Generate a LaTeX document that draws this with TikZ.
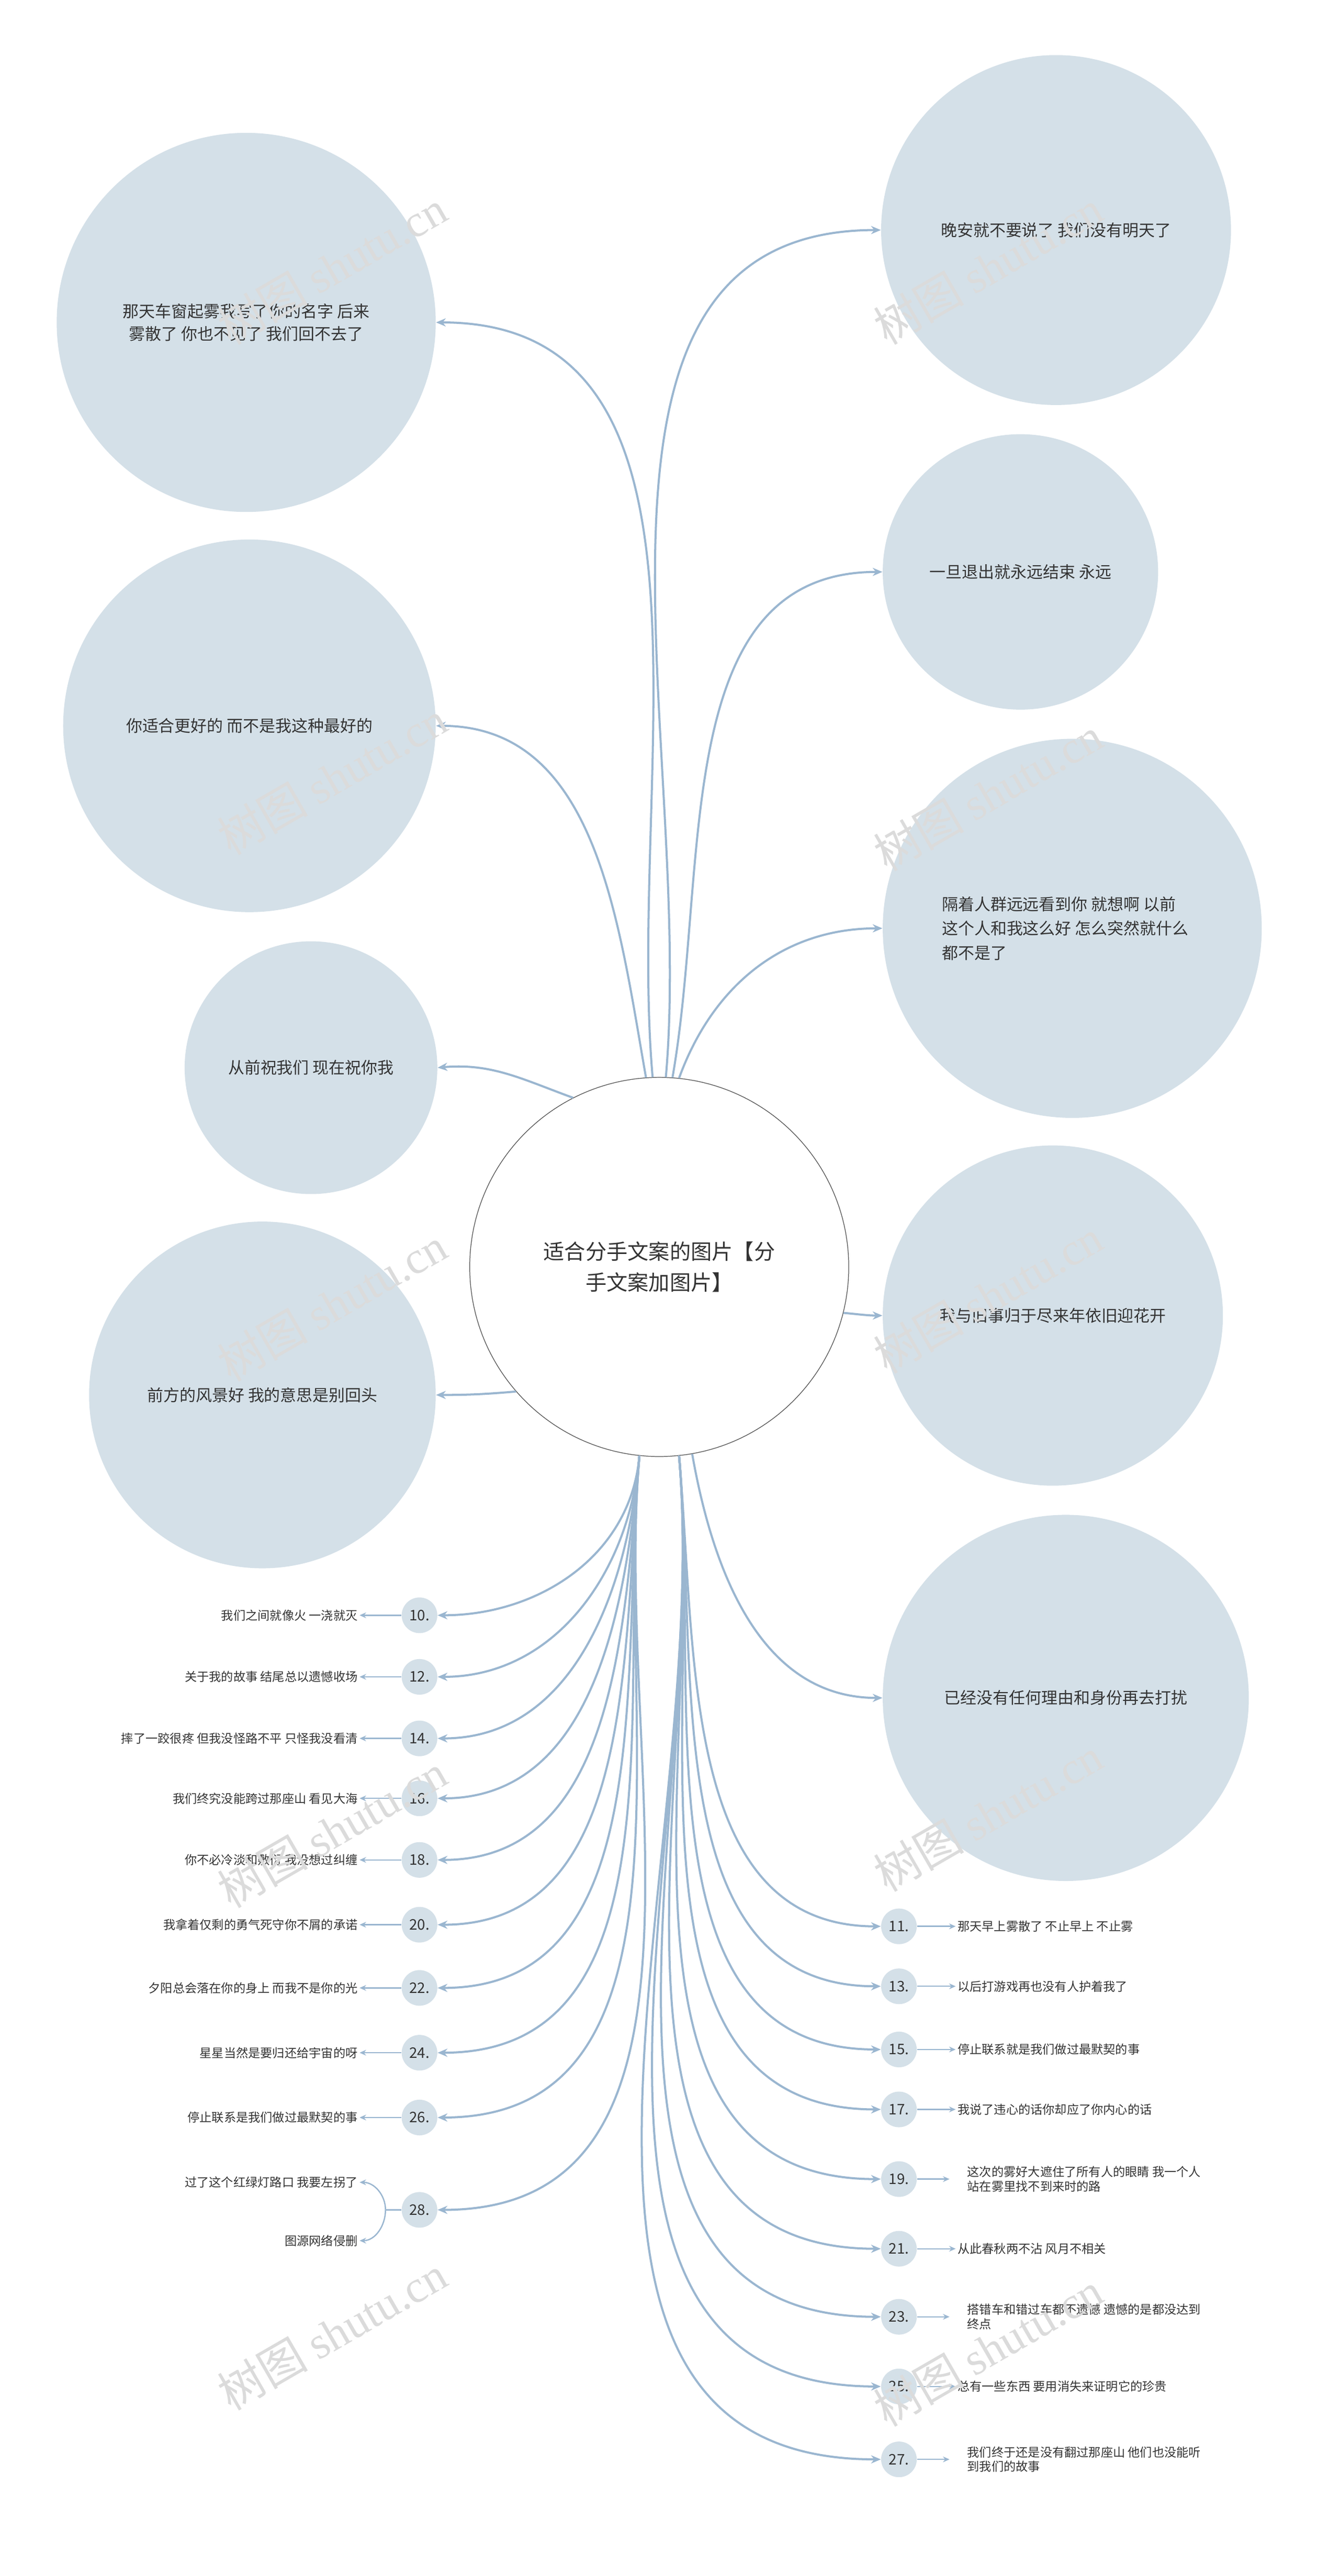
\documentclass[tikz,border=0pt]{standalone}
\usepackage{fontspec}
\setmainfont{Noto Sans CJK SC}
\newfontfamily\wmfont{Liberation Serif}
\usetikzlibrary{arrows.meta}
\definecolor{lc}{HTML}{9AB6D0}
\definecolor{cf}{HTML}{D4E0E8}
\definecolor{tx}{HTML}{333333}
\tikzset{
 big/.style={circle,fill=cf,inner sep=0pt,text=tx,font=\fontsize{10}{14}\selectfont,align=center},
 num/.style={circle,fill=cf,minimum size=22pt,inner sep=0pt,text=tx,font=\fontsize{9}{10}\selectfont},
 item/.style={text=tx,font=\fontsize{7.5}{11}\selectfont,inner sep=1pt},
 conn/.style={draw=lc,line width=1.3pt,-{Stealth[length=6pt,width=5pt]}},
 sh/.style={draw=lc,line width=0.8pt,-{Stealth[length=4pt,width=3.5pt]}},
 wm/.style={text=black!14,font=\fontsize{28}{28}\selectfont,rotate=30}
}
\begin{document}
\begin{tikzpicture}[x=1pt,y=-1pt]
\useasboundingbox (0,0) rectangle (827,1590);
\fill[white] (0,0) rectangle (827,1590);
% center
\node[circle,draw=black!70,fill=white,minimum size=234pt,inner sep=0pt,align=center,font=\fontsize{13}{19}\selectfont,text=tx] (c) at (407,782) {适合分手文案的图片【分\\手文案加图片】};
% left circles
\node[big,minimum size=234pt] (l1) at (152,199) {那天车窗起雾我写了你的名字 后来\\雾散了 你也不见了 我们回不去了};
\node[big,minimum size=230pt] (l2) at (154,448) {你适合更好的 而不是我这种最好的};
\node[big,minimum size=156pt] (l3) at (192,659) {从前祝我们 现在祝你我};
\node[big,minimum size=214pt] (l4) at (162,861) {前方的风景好 我的意思是别回头};
% right circles
\node[big,minimum size=216pt] (r1) at (652,142) {晚安就不要说了 我们没有明天了};
\node[big,minimum size=170pt] (r2) at (630,353) {一旦退出就永远结束 永远};
\node[big,minimum size=234pt] (r3) at (662,573) {};
\node[text=tx,font=\fontsize{10}{15}\selectfont,align=left,anchor=west] (r3t) at (578,573) {隔着人群远远看到你 就想啊 以前\\这个人和我这么好 怎么突然就什么\\都不是了};
\node[big,minimum size=210pt] (r4) at (650,812) {我与旧事归于尽来年依旧迎花开};
\node[big,minimum size=226pt] (r5) at (658,1048) {已经没有任何理由和身份再去打扰};
% top connectors
\draw[conn] (c.92) to[out=95,in=0] (l1.east);
\draw[conn] (c.94) to[out=100,in=0] (l2.east);
\draw[conn] (c.117) to[out=160,in=5] (l3.east);
\draw[conn] (c.-139) to[out=185,in=0] (l4.east);
\draw[conn] (c.88) to[out=85,in=180] (r1.west);
\draw[conn] (c.86) to[out=80,in=180] (r2.west);
\draw[conn] (c.84) to[out=70,in=180] (r3.west);
\draw[conn] (c.-14) to[out=-5,in=180] (r4.west);
\draw[conn] (c.-80) to[out=-80,in=180] (r5.west);
% left list
\foreach \n/\y/\t in {10/997/我们之间就像火 一浇就灭,12/1035/关于我的故事 结尾总以遗憾收场,14/1073/摔了一跤很疼 但我没怪路不平 只怪我没看清,16/1110/我们终究没能跨过那座山 看见大海,18/1148/你不必冷淡和敷衍 我没想过纠缠,20/1188/我拿着仅剩的勇气死守你不屑的承诺,22/1227/夕阳总会落在你的身上 而我不是你的光,24/1267/星星当然是要归还给宇宙的呀,26/1307/停止联系是我们做过最默契的事}{
 \node[num] (n\n) at (259,\y) {\n.};
 \node[item,anchor=east] (t\n) at (222,\y) {\t};
 \draw[sh] (n\n.west) -- (t\n.east);
 \draw[conn] (c.-96) to[out=-95,in=0] (n\n.east);
}
\node[num] (n28) at (259,1364) {28.};
\node[item,anchor=east] (t28a) at (222,1347) {过了这个红绿灯路口 我要左拐了};
\node[item,anchor=east] (t28b) at (222,1383) {图源网络侵删};
\draw[conn] (c.-96) to[out=-95,in=0] (n28.east);
\coordinate (bj) at (238,1364);
\draw[draw=lc,line width=0.8pt] (n28.west) -- (bj);
\draw[sh] (bj) to[out=90,in=0] (t28a.east);
\draw[sh] (bj) to[out=-90,in=0] (t28b.east);
% right list
\foreach \n/\y/\t in {11/1189/那天早上雾散了 不止早上 不止雾,13/1226/以后打游戏再也没有人护着我了,15/1265/停止联系就是我们做过最默契的事,17/1302/我说了违心的话你却应了你内心的话,21/1388/从此春秋两不沾 风月不相关,25/1473/总有一些东西 要用消失来证明它的珍贵}{
 \node[num] (n\n) at (555,\y) {\n.};
 \node[item,anchor=west] (t\n) at (590,\y) {\t};
 \draw[sh] (n\n.east) -- (t\n.west);
 \draw[conn] (c.-84) to[out=-85,in=180] (n\n.west);
}
\foreach \n/\y/\t in {19/1345/这次的雾好大遮住了所有人的眼睛 我一个人\\站在雾里找不到来时的路,23/1430/搭错车和错过车都不遗憾 遗憾的是都没达到\\终点,27/1518/我们终于还是没有翻过那座山 他们也没能听\\到我们的故事}{
 \node[num] (n\n) at (555,\y) {\n.};
 \node[item,anchor=west,align=left,font=\fontsize{7.5}{9}\selectfont] (t\n) at (596,\y) {\t};
 \draw[sh] (n\n.east) -- ++(20,0);
 \draw[conn] (c.-84) to[out=-85,in=180] (n\n.west);
}
% watermarks on top
\foreach \p in {(205,165),(610,165),(205,480),(610,490),(205,805),(610,800),(205,1130),(610,1120),(205,1440),(610,1450)}
 \node[wm] at \p {树图 {\wmfont shutu.cn}};
\end{tikzpicture}
\end{document}
